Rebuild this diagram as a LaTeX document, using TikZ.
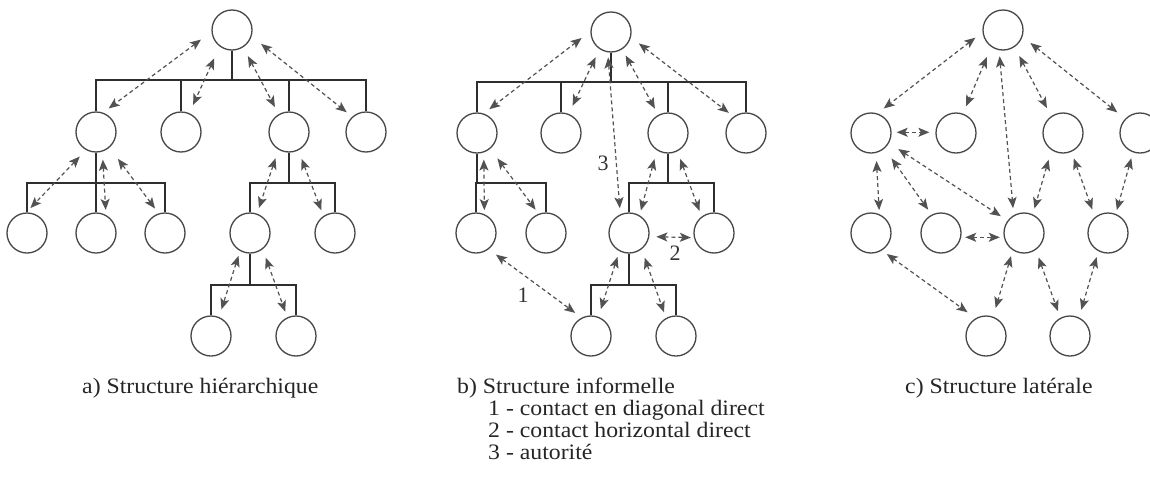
\documentclass[tikz,border=0pt]{standalone}
\usepackage{fontspec}
\setmainfont{Liberation Serif}
\newfontfamily\lblfont[FakeStretch=1.08]{Liberation Serif}
\usetikzlibrary{arrows.meta}
\begin{document}
\begin{tikzpicture}[x=1pt,y=-1pt,
  >={Stealth[length=11pt,width=9pt,inset=2.5pt]},
  org/.style={circle,draw=black!72,line width=1.3pt,minimum size=40pt,inner sep=0pt},
  tree/.style={draw=black!82,line width=1.5pt},
  link/.style={<->,draw=black!68,line width=1.2pt,dash pattern=on 4pt off 3pt},
  lbl/.style={anchor=base west,inner sep=0pt,font=\lblfont\fontsize{22}{24}\selectfont,text=black!85},
  num/.style={inner sep=0pt,font=\fontsize{22}{24}\selectfont,text=black!80}
]
\useasboundingbox (0,0) rectangle (1150,482);
\fill[white] (0,0) rectangle (1150,482);
\clip (0,0) rectangle (1150,482);

% ---------- panel a ----------
\node[org] (a0) at (232,30) {};
\node[org] (a1) at (96,132) {};
\node[org] (a2) at (181,132) {};
\node[org] (a3) at (289,132) {};
\node[org] (a4) at (366,132) {};
\node[org] (a5) at (27,233) {};
\node[org] (a6) at (96,233) {};
\node[org] (a7) at (165,233) {};
\node[org] (a8) at (250,233) {};
\node[org] (a9) at (335,233) {};
\node[org] (a10) at (211,336) {};
\node[org] (a11) at (296,336) {};
\coordinate (ab) at (232,80);
\coordinate (ab1) at (96,183);
\coordinate (ab2) at (289,183);
\coordinate (ab3) at (250,285);
\draw[tree] (a0.south) -- (ab);
\draw[tree] (a1.north) -- (a1.north |- ab) -- (a4.north |- ab) -- (a4.north);
\draw[tree] (a2.north) -- (a2.north |- ab);
\draw[tree] (a3.north) -- (a3.north |- ab);
\draw[tree] (a1.south) -- (ab1);
\draw[tree] (a5.north) -- (a5.north |- ab1) -- (a7.north |- ab1) -- (a7.north);
\draw[tree] (a6.north) -- (a6.north |- ab1);
\draw[tree] (a3.south) -- (ab2);
\draw[tree] (a8.north) -- (a8.north |- ab2) -- (a9.north |- ab2) -- (a9.north);
\draw[tree] (a8.south) -- (ab3);
\draw[tree] (a10.north) -- (a10.north |- ab3) -- (a11.north |- ab3) -- (a11.north);
\draw[link, shorten <=13pt, shorten >=7pt] (a0.185) -- (a1.70);
\draw[link, shorten <=13pt, shorten >=9pt] (a0.233) -- (a2.66);
\draw[link, shorten <=10pt, shorten >=8pt] (a0.303) -- (a3.120);
\draw[link, shorten <=12pt, shorten >=7pt] (a0.342) -- (a4.132);
\draw[link, shorten <=9pt, shorten >=6pt] (a1.241) -- (a5.92);
\draw[link, shorten <=8pt, shorten >=5pt] (a1.288) -- (a6.61);
\draw[link, shorten <=14pt, shorten >=6pt] (a1.311) -- (a7.108);
\draw[link, shorten <=9pt, shorten >=6pt] (a3.239) -- (a8.70);
\draw[link, shorten <=9pt, shorten >=6pt] (a3.297) -- (a9.124);
\draw[link, shorten <=5pt, shorten >=8pt] (a8.241) -- (a10.67);
\draw[link, shorten <=9pt, shorten >=6pt] (a8.308) -- (a11.115);
\node[lbl] (la) at (82,393) {a) Structure hiérarchique};

% ---------- panel b ----------
\node[org] (b0) at (611,32) {};
\node[org] (b1) at (477,133) {};
\node[org] (b2) at (561,133) {};
\node[org] (b3) at (668,133) {};
\node[org] (b4) at (746,133) {};
\node[org] (b5) at (476,233) {};
\node[org] (b6) at (546,233) {};
\node[org] (b7) at (629,233) {};
\node[org] (b8) at (714,233) {};
\node[org] (b9) at (591,336) {};
\node[org] (b10) at (676,336) {};
\coordinate (bb) at (611,82);
\coordinate (bb1) at (476,183);
\coordinate (bb2) at (668,183);
\coordinate (bb3) at (629,285);
\draw[tree] (b0.south) -- (bb);
\draw[tree] (b1.north) -- (b1.north |- bb) -- (b4.north |- bb) -- (b4.north);
\draw[tree] (b2.north) -- (b2.north |- bb);
\draw[tree] (b3.north) -- (b3.north |- bb);
\draw[tree] (b1.south) -- (b1.south |- bb1);
\draw[tree] (b5.north) -- (b5.north |- bb1) -- (b6.north |- bb1) -- (b6.north);
\draw[tree] (b3.south) -- (bb2);
\draw[tree] (b7.north) -- (b7.north |- bb2) -- (b8.north |- bb2) -- (b8.north);
\draw[tree] (b7.south) -- (bb3);
\draw[tree] (b9.north) -- (b9.north |- bb3) -- (b10.north |- bb3) -- (b10.north);
\draw[link, shorten <=11pt, shorten >=7pt] (b0.178) -- (b1.71);
\draw[link, shorten <=9pt, shorten >=9pt] (b0.236) -- (b2.68);
\draw[link, shorten <=5pt, shorten >=6pt] (b0.261) -- (b7.115);
\draw[link, shorten <=7pt, shorten >=7pt] (b0.303) -- (b3.118);
\draw[link, shorten <=10pt, shorten >=6pt] (b0.345) -- (b4.127);
\draw[link, shorten <=7pt, shorten >=4pt] (b1.289) -- (b5.66);
\draw[link, shorten <=12pt, shorten >=5pt] (b1.310) -- (b6.111);
\draw[link, shorten <=9pt, shorten >=5pt] (b3.237) -- (b7.59);
\draw[link, shorten <=8pt, shorten >=6pt] (b3.297) -- (b8.127);
\draw[link, shorten <=9pt, shorten >=8pt] (b5.308) -- (b9.117);
\draw[link, shorten <=7pt, shorten >=3pt] (b7.350) -- (b8.193);
\draw[link, shorten <=6pt, shorten >=8pt] (b7.242) -- (b9.69);
\draw[link, shorten <=9pt, shorten >=6pt] (b7.308) -- (b10.119);
\node[num] (n3) at (603,163) {3};
\node[num] (n1) at (523,295) {1};
\node[num] (n2) at (675,253) {2};
\node[lbl] (lb) at (457,393) {b) Structure informelle};
\node[lbl] (lb1) at (488,415) {1 - contact en diagonal direct};
\node[lbl] (lb2) at (488,437) {2 - contact horizontal direct};
\node[lbl] (lb3) at (488,459) {3 - autorité};

% ---------- panel c ----------
\node[org] (c0) at (1003,30) {};
\node[org] (c1) at (871,133) {};
\node[org] (c2) at (956,133) {};
\node[org] (c3) at (1063,133) {};
\node[org] (c4) at (1140,133) {};
\node[org] (c5) at (871,233) {};
\node[org] (c6) at (941,233) {};
\node[org] (c7) at (1024,233) {};
\node[org] (c8) at (1108,233) {};
\node[org] (c9) at (986,336) {};
\node[org] (c10) at (1070,336) {};
\draw[link, shorten <=9pt, shorten >=8pt] (c0.186) -- (c1.72);
\draw[link, shorten <=11pt, shorten >=8pt] (c0.235) -- (c2.70);
\draw[link, shorten <=6pt, shorten >=7pt] (c0.259) -- (c7.120);
\draw[link, shorten <=10pt, shorten >=9pt] (c0.304) -- (c3.125);
\draw[link, shorten <=10pt, shorten >=10pt] (c0.341) -- (c4.136);
\draw[link, shorten <=5pt, shorten >=6pt] (c1.2) -- (c2.178);
\draw[link, shorten <=8pt, shorten >=4pt] (c1.284) -- (c5.66);
\draw[link, shorten <=12pt, shorten >=6pt] (c1.311) -- (c6.117);
\draw[link, shorten <=11pt, shorten >=8pt] (c1.331) -- (c7.143);
\draw[link, shorten <=10pt, shorten >=6pt] (c3.236) -- (c7.65);
\draw[link, shorten <=7pt, shorten >=8pt] (c3.294) -- (c8.129);
\draw[link, shorten <=6pt, shorten >=4pt] (c4.250) -- (c8.68);
\draw[link, shorten <=4pt, shorten >=4pt] (c6.348) -- (c7.192);
\draw[link, shorten <=6pt, shorten >=10pt] (c5.302) -- (c9.120);
\draw[link, shorten <=6pt, shorten >=9pt] (c7.237) -- (c9.70);
\draw[link, shorten <=8pt, shorten >=7pt] (c7.305) -- (c10.118);
\draw[link, shorten <=6pt, shorten >=8pt] (c8.242) -- (c10.64);
\node[lbl] (lc) at (905,393) {c) Structure latérale};
\end{tikzpicture}
\end{document}
